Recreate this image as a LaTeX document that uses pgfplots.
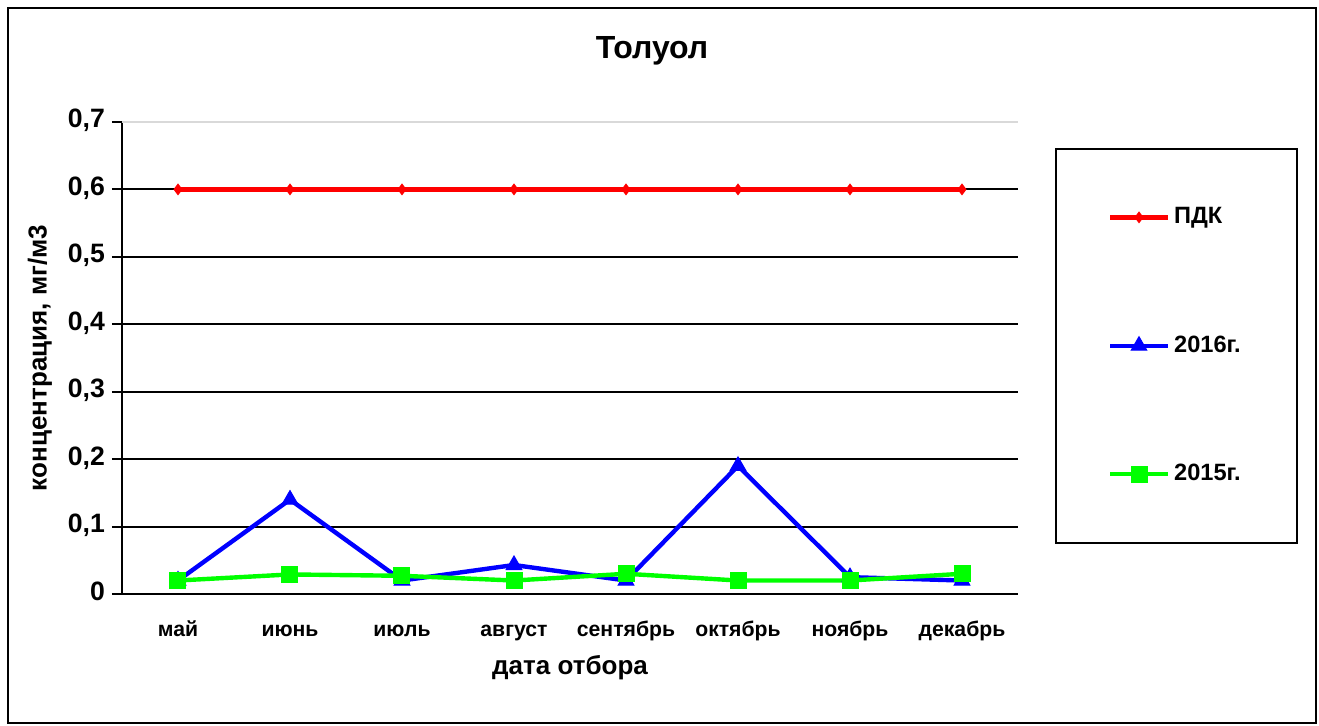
\documentclass[border=0pt]{standalone}
\usepackage{pgfplots}
\pgfplotsset{compat=1.18}
\usepackage{fontspec}
\setmainfont{Liberation Sans}

\definecolor{pdk}{RGB}{255,0,0}
\definecolor{y2016}{RGB}{0,0,255}
\definecolor{y2015}{RGB}{0,255,0}

\begin{document}
\begin{tikzpicture}
	% page frame, 1px = 0.5pt
	\path[use as bounding box] (0,0) rectangle (659.5pt,362.5pt);
	\draw[line width=1pt] (4pt,0.8pt) rectangle (658pt,358.5pt);
	\node[font=\bfseries\fontsize{16}{19}\selectfont] at (326pt,337pt) {Толуол};

	\begin{axis}[
		at={(61pt,65.5pt)}, anchor=south west,
		scale only axis, width=448pt, height=236pt,
		xmin=-0.5, xmax=7.5, ymin=0, ymax=0.7,
		axis lines=left, axis line style={line width=1pt, -},
		xtick={0,...,7},
		xticklabels={май,июнь,июль,август,сентябрь,октябрь,ноябрь,декабрь},
		typeset ticklabels with strut,
		x tick label style={font=\bfseries\fontsize{10.6}{13}\selectfont, yshift=-3.5pt},
		major x tick style={draw=none},
		extra x ticks={-0.5,0.5,...,7.5}, extra x tick labels={},
		extra x tick style={major tick length=5pt, tick style={line width=1pt, draw=black}},
		ytick={0,0.1,...,0.6},
		extra y ticks={0.7},
		extra y tick style={grid style={gray!30, line width=0.6pt}},
		tick align=outside, major tick length=5pt,
		tick style={line width=1pt, black},
		ymajorgrids, grid style={black, line width=1pt},
		y tick label style={font=\bfseries\fontsize{13.3}{15}\selectfont},
		/pgf/number format/.cd, use comma, fixed, precision=1, assume math mode=true, /pgfplots/.cd,
		xlabel={дата отбора}, ylabel={концентрация, мг/м3},
		label style={font=\bfseries\fontsize{13}{15}\selectfont},
		xlabel style={at={(axis description cs:0.5,-0.157)}, anchor=center},
		ylabel style={at={(axis description cs:-0.0915,0.5)}, anchor=center},
		legend style={at={(1.0413,0.945)}, anchor=north west, draw=black, line width=0.8pt,
			inner xsep=26pt, inner ysep=27.5pt, row sep=50.5pt,
			font=\bfseries\fontsize{11.8}{13}\selectfont,
			text width=33.5pt},
		legend cell align=left,
		legend image code/.code={\draw[mark repeat=2,mark phase=2,#1] plot coordinates {(0pt,0pt) (14.5pt,0pt) (29pt,0pt)};},
		clip=false,
	]
		\addplot[color=pdk, line width=2.2pt, mark=diamond*, mark size=2.6pt, mark options={solid, line width=0.5pt}]
			coordinates {(0,0.6) (1,0.6) (2,0.6) (3,0.6) (4,0.6) (5,0.6) (6,0.6) (7,0.6)};
		\addplot[color=y2016, line width=2.2pt, mark=triangle*, mark size=4.5pt, mark options={solid, line width=0.5pt}]
			coordinates {(0,0.02) (1,0.14) (2,0.02) (3,0.043) (4,0.02) (5,0.19) (6,0.025) (7,0.02)};
		\addplot[color=y2015, line width=2.2pt, mark=square*, mark size=4pt, mark options={solid, line width=0.5pt}]
			coordinates {(0,0.02) (1,0.029) (2,0.027) (3,0.02) (4,0.03) (5,0.02) (6,0.02) (7,0.03)};
		\legend{ПДК,2016г.,2015г.}
	\end{axis}
\end{tikzpicture}
\end{document}
